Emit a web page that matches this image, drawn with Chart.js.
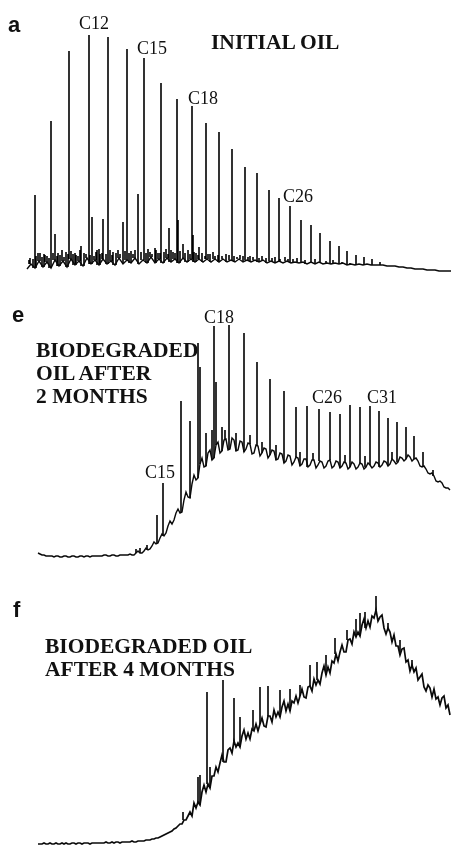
<!DOCTYPE html>
<html>
<head>
<meta charset="utf-8">
<script src="https://cdn.jsdelivr.net/npm/chart.js@4.4.1/dist/chart.umd.min.js"></script>
<style>
  html, body { margin: 0; padding: 0; background: #fff; overflow: hidden; }
  #wrap { position: relative; width: 453px; height: 845px; }
  canvas { position: absolute; left: 0; }
  .lbl { position: absolute; line-height: 1; white-space: nowrap; color: #111; }
  .panel { font-family: "Liberation Sans", Arial, sans-serif; font-weight: bold; font-size: 22px; }
  .cn { font-family: "Liberation Serif", "Times New Roman", serif; font-size: 18px; }
  .title { font-family: "Liberation Serif", "Times New Roman", serif; font-weight: bold; font-size: 21.5px; line-height: 23px; }
</style>
</head>
<body>
<div id="wrap">
  <canvas id="chartA" width="453" height="280" style="top:0px"></canvas>
  <canvas id="chartE" width="453" height="280" style="top:290px"></canvas>
  <canvas id="chartF" width="453" height="275" style="top:570px"></canvas>

  <div class="lbl panel" style="left:8px;top:14px">a</div>
  <div class="lbl cn" style="left:79px;top:14px">C12</div>
  <div class="lbl cn" style="left:137px;top:39px">C15</div>
  <div class="lbl cn" style="left:188px;top:89px">C18</div>
  <div class="lbl cn" style="left:283px;top:187px">C26</div>
  <div class="lbl title" style="left:211px;top:31px">INITIAL OIL</div>

  <div class="lbl panel" style="left:12px;top:304px">e</div>
  <div class="lbl title" style="left:36px;top:339px">BIODEGRADED<br>OIL AFTER<br>2 MONTHS</div>
  <div class="lbl cn" style="left:204px;top:308px">C18</div>
  <div class="lbl cn" style="left:145px;top:463px">C15</div>
  <div class="lbl cn" style="left:312px;top:388px">C26</div>
  <div class="lbl cn" style="left:367px;top:388px">C31</div>

  <div class="lbl panel" style="left:13px;top:599px">f</div>
  <div class="lbl title" style="left:45px;top:635px">BIODEGRADED OIL<br>AFTER 4 MONTHS</div>
</div>

<script>
// a - initial oil, detector response every 4 scans
const traceAStart = 27
const traceAStep = 4
const traceA = [
  11,16,12,19,13,18,12,20,14,19,
  13,21,15,19,14,22,16,20,15,21,
  16,19,15,22,16,20,17,22,16,20,
  17,23,17,21,17,22,18,21,17,22,
  18,21,18,21,18,21,18,21,18,21,
  18,20,18,21,18,20,18,20,18,20,
  17,19,17,19,17,19,17,18,17,18,
  16,18,16,18,16,17,16,17,16,17,
  15,16,15,16,15,16,15,15,15,15,
  14,14,14,13,13,12,12,11,11,11,
  10,10,10,9,9,9,9
]
// n-alkane peaks and minor peaks: scan, apex response
const peakAX = [35, 40, 44, 51, 55, 62, 69, 76, 81, 89, 92, 103, 108, 123, 127, 138, 144, 155, 161, 169, 177, 178, 183, 192, 193, 199, 206, 213, 219, 232, 245, 257, 269, 279, 290, 301, 311, 320, 330, 339, 347, 356, 364, 372, 380,
  30, 38, 47, 58, 66, 73, 84, 97, 100, 113, 118, 131, 150, 158, 166, 173, 188, 196, 210, 226, 240, 250, 262, 275, 285, 297, 315, 333,
  29, 33, 36, 42, 45, 49, 53, 57, 60, 64, 68, 71, 75, 78, 80, 86, 90, 94, 96, 99, 102, 106, 110, 112, 116, 120, 125, 129, 133, 135,
  141, 146, 148, 152, 156, 160, 164, 168, 171, 175, 180, 185, 190, 194, 198, 202, 205, 208, 215, 218, 222, 229, 234, 237, 243, 248,
  253, 259, 266, 272, 280, 288, 293, 305, 320, 326, 342, 350]
const peakAY = [85, 27, 26, 159, 46, 30, 229, 25, 34, 245, 63, 61, 243, 58, 231, 86, 222, 32, 197, 52, 181, 60, 36, 174, 45, 33, 157, 28, 148, 131, 113, 107, 90, 82, 74, 60, 55, 47, 39, 34, 29, 25, 23, 21, 18,
  22, 27, 24, 27, 28, 26, 27, 30, 26, 28, 30, 29, 28, 27, 31, 28, 30, 27, 26, 26, 25, 24, 24, 23, 23, 22, 21, 20,
  20, 21, 24, 23, 25, 22, 27, 24, 25, 23, 26, 29, 27, 24, 30, 26, 25, 24, 28, 31, 27, 26, 30, 25, 27, 26, 29, 27, 26, 30,
  28, 27, 31, 26, 30, 27, 28, 26, 30, 27, 29, 27, 26, 28, 25, 27, 24, 26, 24, 25, 24, 25, 24, 23, 24, 23,
  23, 22, 22, 22, 21, 21, 21, 20, 19, 19, 18, 17]

// e - biodegraded 2 months, response every 2 scans
const traceEStart = 38
const traceEStep = 2
const traceE = [
  17,16,15,15,14,14,14,14,13,14,
  14,13,13,14,14,13,13,14,14,13,
  13,14,14,13,14,14,13,14,14,14,
  14,14,14,15,15,14,14,15,15,14,
  14,15,15,15,15,15,16,15,15,17,
  19,17,17,19,22,20,21,24,28,26,
  27,32,36,34,37,44,49,46,50,57,
  61,57,58,70,78,73,72,86,95,90,
  92,106,112,103,104,117,120,110,112,125,
  128,117,119,130,131,120,121,132,130,119,
  120,129,128,118,121,127,126,116,117,125,
  124,114,117,122,121,112,115,120,119,110,
  111,117,116,107,109,115,114,105,108,113,
  112,104,106,111,111,103,105,110,110,102,
  105,109,108,102,104,109,110,102,104,109,
  108,102,104,108,107,101,103,108,106,101,
  103,107,106,101,103,107,105,102,104,108,
  107,103,105,109,108,104,106,111,109,106,
  108,113,112,109,111,115,113,109,111,112,
  109,104,103,104,101,97,96,97,94,89,
  88,89,87,83,82,82,80
]
const peakEX = [136, 140, 147, 157, 163, 181, 190, 198, 200, 206, 214, 216, 222, 229, 244, 257, 270, 284, 296, 307, 319, 330, 340, 350, 360, 370, 379, 388, 397, 406, 414, 423, 433,
  212, 225, 236, 250, 262, 276, 300, 313, 345, 365, 392]
const peakEY = [21, 22, 25, 55, 87, 169, 149, 227, 203, 137, 244, 188, 143, 245, 237, 208, 191, 179, 163, 164, 161, 158, 156, 165, 163, 164, 159, 152, 148, 143, 134, 118, 100,
  140, 140, 137, 135, 128, 125, 118, 117, 115, 114, 118]

// f - biodegraded 4 months, response every 2 scans
const traceFStart = 38
const traceFStep = 2
const traceF = [
  1,1,1,2,1,1,2,1,1,2,
  1,1,2,1,2,1,1,2,2,1,
  2,2,1,2,2,2,1,2,2,2,
  2,2,2,2,3,2,2,3,2,3,
  3,2,3,3,3,3,3,4,3,3,
  4,4,4,4,5,5,5,6,6,7,
  7,8,9,10,11,12,13,14,16,17,
  19,21,21,25,25,29,33,29,42,37,
  43,40,53,60,53,61,57,69,69,78,
  73,82,90,83,83,95,97,92,104,98,
  102,98,109,115,106,112,106,116,114,121,
  114,121,127,119,118,129,129,123,135,128,
  133,128,138,144,134,141,134,144,142,149,
  142,149,156,148,147,158,159,154,166,160,
  165,161,172,179,170,178,172,184,182,191,
  184,193,200,193,193,205,206,201,213,208,
  213,209,220,226,217,224,218,229,227,235,
  224,228,230,217,211,217,213,203,210,199,
  199,190,196,197,183,185,174,180,173,177,
  165,168,171,158,154,160,157,148,156,146,
  148,140,147,149,137,140,130
]
const peakFX = [183, 198, 200, 207, 210, 223, 234, 240, 253, 260, 268, 280, 290, 300, 310, 317, 326, 335, 347, 356, 360, 365, 376, 388, 400, 412]
const peakFY = [33, 68, 70, 153, 78, 165, 147, 128, 135, 158, 159, 155, 156, 160, 180, 183, 190, 207, 215, 226, 232, 233, 249, 222, 205, 185]

function traceData(start, step, vals){
    return vals.map((v, i) => ({x: start + i * step, y: v}))
}

// each peak is a vertical stroke from the trace level at that scan up to its apex
function peakData(xs, tops, start, step, vals){
    const out = []
    for (let i = 0; i < xs.length; i++) {
        let k = Math.round((xs[i] - start) / step)
        k = Math.max(0, Math.min(vals.length - 1, k))
        out.push({x: xs[i], y: vals[k]})
        out.push({x: xs[i], y: tops[i]})
        out.push({x: xs[i], y: null})
    }
    return out
}

function drawGC(id, start, step, trace, px, py, yMax, lw){
    const ctx = document.getElementById(id)
    return new Chart(ctx, {
        type: 'line',
        data: {
            datasets: [
                {data: traceData(start, step, trace), borderColor: '#0a0a0a', borderWidth: lw},
                {data: peakData(px, py, start, step, trace), borderColor: '#000', borderWidth: 1.6, spanGaps: false}
            ]
        },
        options: {
            responsive: false,
            animation: false,
            layout: {padding: 0},
            elements: {point: {radius: 0}, line: {tension: 0}},
            plugins: {legend: {display: false}, tooltip: {enabled: false}},
            scales: {
                x: {type: 'linear', display: false, min: 0, max: 453},
                y: {display: false, min: 0, max: yMax}
            }
        }
    })
}

drawGC('chartA', traceAStart, traceAStep, traceA, peakAX, peakAY, 280, 1.4)
drawGC('chartE', traceEStart, traceEStep, traceE, peakEX, peakEY, 280, 1.4)
drawGC('chartF', traceFStart, traceFStep, traceF, peakFX, peakFY, 275, 1.7)
</script>
</body>
</html>
